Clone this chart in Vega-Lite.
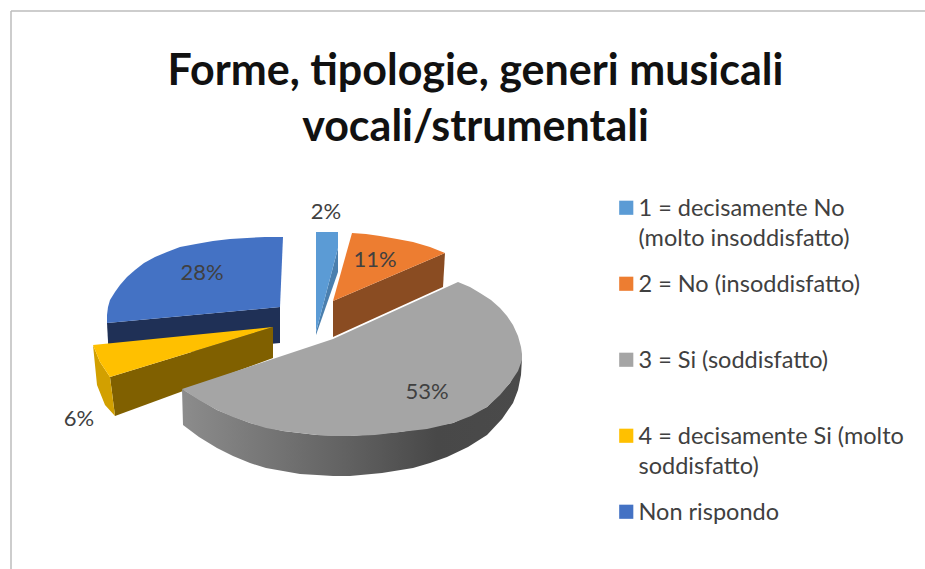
{"$schema":"https://vega.github.io/schema/vega-lite/v6.json","width":925,"height":569,"padding":0,"autosize":{"type":"none"},"background":"white","config":{"view":{"stroke":null}},
"title":{"text":["Forme, tipologie, generi musicali","vocali/strumentali"],"font":"Lato","fontSize":43,"fontWeight":"bold","color":"#111111","lineHeight":56,"anchor":"middle","frame":"group","orient":"top","offset":-150,"dx":13},
"datasets":{
"tops":[
{"slice":"Non rispondo","o":1,"x":283,"y":237},{"slice":"Non rispondo","o":2,"x":265,"y":237},{"slice":"Non rispondo","o":3,"x":247,"y":238},{"slice":"Non rispondo","o":4,"x":230,"y":239},{"slice":"Non rispondo","o":5,"x":213,"y":241},{"slice":"Non rispondo","o":6,"x":196,"y":244},{"slice":"Non rispondo","o":7,"x":180,"y":247},{"slice":"Non rispondo","o":8,"x":167,"y":252},{"slice":"Non rispondo","o":9,"x":155,"y":257},{"slice":"Non rispondo","o":10,"x":144,"y":263},{"slice":"Non rispondo","o":11,"x":135,"y":270},{"slice":"Non rispondo","o":12,"x":127,"y":277},{"slice":"Non rispondo","o":13,"x":120,"y":285},{"slice":"Non rispondo","o":14,"x":115,"y":292},{"slice":"Non rispondo","o":15,"x":110,"y":300},{"slice":"Non rispondo","o":16,"x":108,"y":307},{"slice":"Non rispondo","o":17,"x":107,"y":315},{"slice":"Non rispondo","o":18,"x":107,"y":323},{"slice":"Non rispondo","o":19,"x":280,"y":307},
{"slice":"1 = decisamente No (molto insoddisfatto)","o":1,"x":316,"y":232},{"slice":"1 = decisamente No (molto insoddisfatto)","o":2,"x":338,"y":232},{"slice":"1 = decisamente No (molto insoddisfatto)","o":3,"x":338,"y":248},{"slice":"1 = decisamente No (molto insoddisfatto)","o":4,"x":316,"y":332},
{"slice":"2 = No (insoddisfatto)","o":1,"x":352,"y":233},{"slice":"2 = No (insoddisfatto)","o":2,"x":366,"y":234},{"slice":"2 = No (insoddisfatto)","o":3,"x":380,"y":236},{"slice":"2 = No (insoddisfatto)","o":4,"x":397,"y":239},{"slice":"2 = No (insoddisfatto)","o":5,"x":413,"y":242},{"slice":"2 = No (insoddisfatto)","o":6,"x":430,"y":247},{"slice":"2 = No (insoddisfatto)","o":7,"x":445,"y":253},{"slice":"2 = No (insoddisfatto)","o":8,"x":333,"y":301},
{"slice":"4 = decisamente Si (molto soddisfatto)","o":1,"x":93,"y":345},{"slice":"4 = decisamente Si (molto soddisfatto)","o":2,"x":273,"y":327},{"slice":"4 = decisamente Si (molto soddisfatto)","o":3,"x":110,"y":377},{"slice":"4 = decisamente Si (molto soddisfatto)","o":4,"x":100,"y":362},
{"slice":"3 = Si (soddisfatto)","o":1,"x":458,"y":282},{"slice":"3 = Si (soddisfatto)","o":2,"x":470,"y":287},{"slice":"3 = Si (soddisfatto)","o":3,"x":480,"y":293},{"slice":"3 = Si (soddisfatto)","o":4,"x":491,"y":300},{"slice":"3 = Si (soddisfatto)","o":5,"x":500,"y":308},{"slice":"3 = Si (soddisfatto)","o":6,"x":507,"y":316},{"slice":"3 = Si (soddisfatto)","o":7,"x":513,"y":325},{"slice":"3 = Si (soddisfatto)","o":8,"x":518,"y":336},{"slice":"3 = Si (soddisfatto)","o":9,"x":521,"y":347},{"slice":"3 = Si (soddisfatto)","o":10,"x":522,"y":354},{"slice":"3 = Si (soddisfatto)","o":11,"x":522,"y":360},{"slice":"3 = Si (soddisfatto)","o":12,"x":518,"y":371},{"slice":"3 = Si (soddisfatto)","o":13,"x":510,"y":383},{"slice":"3 = Si (soddisfatto)","o":14,"x":500,"y":395},{"slice":"3 = Si (soddisfatto)","o":15,"x":487,"y":407},{"slice":"3 = Si (soddisfatto)","o":16,"x":471,"y":416},{"slice":"3 = Si (soddisfatto)","o":17,"x":453,"y":423},{"slice":"3 = Si (soddisfatto)","o":18,"x":427,"y":429},{"slice":"3 = Si (soddisfatto)","o":19,"x":400,"y":432},{"slice":"3 = Si (soddisfatto)","o":20,"x":375,"y":435},{"slice":"3 = Si (soddisfatto)","o":21,"x":350,"y":436},{"slice":"3 = Si (soddisfatto)","o":22,"x":333,"y":436},{"slice":"3 = Si (soddisfatto)","o":23,"x":317,"y":435},{"slice":"3 = Si (soddisfatto)","o":24,"x":300,"y":433},{"slice":"3 = Si (soddisfatto)","o":25,"x":283,"y":431},{"slice":"3 = Si (soddisfatto)","o":26,"x":266,"y":428},{"slice":"3 = Si (soddisfatto)","o":27,"x":250,"y":423},{"slice":"3 = Si (soddisfatto)","o":28,"x":233,"y":417},{"slice":"3 = Si (soddisfatto)","o":29,"x":217,"y":410},{"slice":"3 = Si (soddisfatto)","o":30,"x":199,"y":400},{"slice":"3 = Si (soddisfatto)","o":31,"x":182,"y":389},{"slice":"3 = Si (soddisfatto)","o":32,"x":333,"y":339}
],
"sides":[
{"face":"blue inner","o":1,"x":107,"y":323},{"face":"blue inner","o":2,"x":280,"y":307},{"face":"blue inner","o":3,"x":280,"y":343},{"face":"blue inner","o":4,"x":109,"y":360},
{"face":"light blue inner","o":1,"x":338,"y":248},{"face":"light blue inner","o":2,"x":338,"y":272},{"face":"light blue inner","o":3,"x":316,"y":335},{"face":"light blue inner","o":4,"x":316,"y":332},
{"face":"orange inner","o":1,"x":333,"y":301},{"face":"orange inner","o":2,"x":445,"y":253},{"face":"orange inner","o":3,"x":443,"y":287},{"face":"orange inner","o":4,"x":333,"y":337},
{"face":"yellow inner","o":1,"x":110,"y":377},{"face":"yellow inner","o":2,"x":273,"y":327},{"face":"yellow inner","o":3,"x":273,"y":358},{"face":"yellow inner","o":4,"x":115,"y":416},
{"face":"yellow outer","o":1,"x":93,"y":345},{"face":"yellow outer","o":2,"x":100,"y":362},{"face":"yellow outer","o":3,"x":110,"y":377},{"face":"yellow outer","o":4,"x":115,"y":416},{"face":"yellow outer","o":5,"x":105,"y":405},{"face":"yellow outer","o":6,"x":97,"y":385}
],
"grayside":[
{"o":1,"x":182,"y":389},{"o":2,"x":217,"y":410},{"o":3,"x":250,"y":423},{"o":4,"x":283,"y":431},{"o":5,"x":317,"y":435},{"o":6,"x":350,"y":436},{"o":7,"x":400,"y":432},{"o":8,"x":453,"y":423},{"o":9,"x":487,"y":407},{"o":10,"x":510,"y":383},{"o":11,"x":522,"y":358},{"o":12,"x":521,"y":375},{"o":13,"x":518,"y":390},{"o":14,"x":513,"y":403},{"o":15,"x":502,"y":419},{"o":16,"x":487,"y":435},{"o":17,"x":468,"y":447},{"o":18,"x":447,"y":457},{"o":19,"x":430,"y":463},{"o":20,"x":413,"y":468},{"o":21,"x":382,"y":473},{"o":22,"x":350,"y":476},{"o":23,"x":333,"y":476},{"o":24,"x":317,"y":475},{"o":25,"x":300,"y":474},{"o":26,"x":283,"y":471},{"o":27,"x":266,"y":468},{"o":28,"x":250,"y":463},{"o":29,"x":233,"y":456},{"o":30,"x":217,"y":448},{"o":31,"x":199,"y":437},{"o":32,"x":183,"y":425}
],
"labels":[{"pct":0.02,"x":326,"y":212},{"pct":0.11,"x":375,"y":260},{"pct":0.53,"x":427,"y":392},{"pct":0.06,"x":79,"y":419},{"pct":0.28,"x":202,"y":273}]
},
"resolve":{"scale":{"fill":"independent"}},
"layer":[
{"mark":{"type":"rule","color":"#bdbdbd","strokeWidth":1.5},"data":{"values":[{"a":11,"b":925}]},"encoding":{"x":{"field":"a","type":"quantitative","scale":{"domain":[0,925],"nice":false,"zero":false},"axis":null},"y":{"field":"a","type":"quantitative","scale":{"domain":[569,0],"nice":false,"zero":false},"axis":null},"x2":{"field":"b"}}},
{"mark":{"type":"rule","color":"#bdbdbd","strokeWidth":1.5},"data":{"values":[{"a":11,"b":569}]},"encoding":{"x":{"field":"a","type":"quantitative","axis":null},"y":{"field":"a","type":"quantitative","axis":null},"y2":{"field":"b"}}},
{"data":{"name":"sides"},"mark":{"type":"line","strokeWidth":0,"interpolate":"linear-closed"},"encoding":{"x":{"field":"x","type":"quantitative","axis":null},"y":{"field":"y","type":"quantitative","axis":null},"order":{"field":"o"},"fill":{"field":"face","type":"nominal","legend":null,"scale":{"domain":["blue inner","light blue inner","orange inner","yellow inner","yellow outer"],"range":["#1f3056","#4a7fae","#8a4c22","#806000","#d2a000"]}}}},
{"data":{"name":"grayside"},"mark":{"type":"line","strokeWidth":0,"interpolate":"linear-closed","fill":{"gradient":"linear","x1":0,"x2":1,"y1":0,"y2":0,"stops":[{"offset":0,"color":"#8c8c8c"},{"offset":0.5,"color":"#606060"},{"offset":0.75,"color":"#484848"},{"offset":1,"color":"#4a4a4a"}]}},"encoding":{"x":{"field":"x","type":"quantitative","axis":null},"y":{"field":"y","type":"quantitative","axis":null},"order":{"field":"o"}}},
{"data":{"name":"tops"},"mark":{"type":"line","strokeWidth":0,"interpolate":"linear-closed"},"encoding":{"x":{"field":"x","type":"quantitative","axis":null},"y":{"field":"y","type":"quantitative","axis":null},"order":{"field":"o"},"fill":{"field":"slice","type":"nominal","sort":null,"scale":{"domain":["1 = decisamente No (molto insoddisfatto)","2 = No (insoddisfatto)","3 = Si (soddisfatto)","4 = decisamente Si (molto soddisfatto)","Non rispondo"],"range":["#5B9BD5","#ED7D31","#A5A5A5","#FFC000","#4472C4"]},
"legend":{"title":null,"orient":"none","legendX":614.5,"legendY":196,"columns":1,"symbolType":"square","symbolSize":200,"symbolStrokeWidth":0,"labelFont":"Lato","labelFontSize":23.5,"labelColor":"#404040","labelLimit":320,"labelOffset":0.5,"labelBaseline":"alphabetic","rowPadding":21,"gridAlign":"all","labelExpr":"split(replace(replace(datum.label,'No (molto ','No|(molto '),'Si (molto ','Si (molto|'),'|')","encoding":{"labels":{"lineHeight":{"value":30},"dy":{"value":8}}}}}}},
{"data":{"name":"labels"},"mark":{"type":"text","font":"Lato","fontSize":22,"color":"#404040","align":"center","baseline":"middle"},"encoding":{"x":{"field":"x","type":"quantitative","axis":null},"y":{"field":"y","type":"quantitative","axis":null},"text":{"field":"pct","type":"quantitative","format":".0%"}}}
]}
